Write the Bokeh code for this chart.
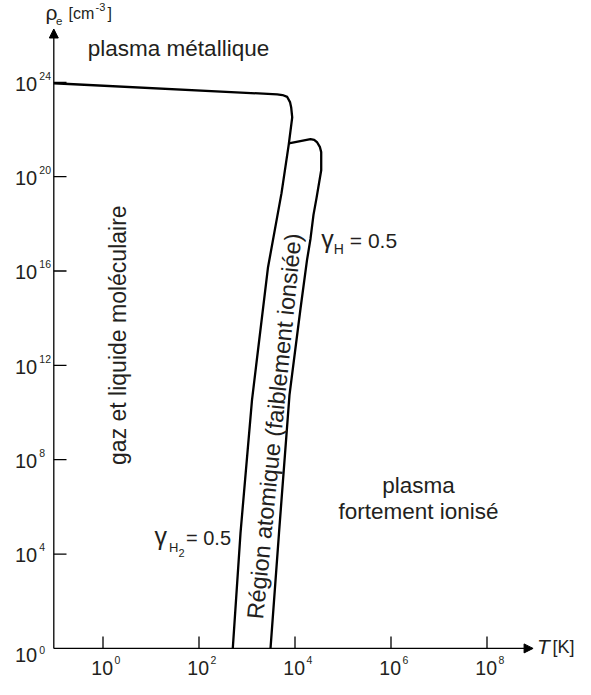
import math
from bokeh.plotting import figure
from bokeh.models import Range1d, Arrow, NormalHead
from bokeh.embed import file_html
from bokeh.resources import INLINE
from bokeh.core.properties import value

# ---------------- data (log10 units) ----------------
# gamma_H2 = 0.5 boundary (molecular -> atomic)
gamma_h2_log_T = [-1.025, 3.629, 3.74, 3.838, 3.896, 3.921, 3.942, 3.871, 3.719, 3.438, 3.104, 2.865, 2.704]
gamma_h2_log_rho = [23.96, 23.49, 23.46, 23.38, 23.16, 22.93, 22.51, 21.38, 19.30, 16.16, 10.53, 4.90, 0.0]

# gamma_H = 0.5 boundary (atomic -> ionised)
gamma_h_log_T = [3.871, 4.323, 4.40, 4.463, 4.52, 4.546, 4.546, 4.448, 4.385, 4.323, 4.25, 4.115, 3.885, 3.667, 3.49]
gamma_h_log_rho = [21.41, 21.59, 21.56, 21.45, 21.25, 21.04, 20.27, 19.09, 18.38, 17.37, 16.46, 14.41, 10.74, 4.90, 0.0]

x_tick_exponents = [0, 2, 4, 6, 8]
y_tick_exponents = [4, 8, 12, 16, 20, 24]
y_label_exponents = [4, 8, 12, 16, 20, 24]
axis_log_T = (-1.025, 8.96)     # extent of the temperature axis (decades)
axis_log_rho = (0.0, 26.26)     # extent of the density axis (decades)

# ---------------- figure ----------------
W, H = 575, 679
p = figure(width=W, height=H, output_backend="svg", toolbar_location=None,
           x_range=Range1d(-2.13542, 9.84375), y_range=Range1d(-1.3176, 27.468),
           x_axis_location=None, y_axis_location=None, min_border=0,
           outline_line_color=None)
p.xgrid.visible = False
p.ygrid.visible = False
p.background_fill_color = "white"
p.border_fill_color = "white"

FONT = value("Liberation Sans")
TXT = "#231f20"
K = 0.37  # baseline correction (fraction of font size)


def txt(x, y, t, fs, dx=0.0, dy=0.0, align="left", angle=0.0, style="normal"):
    c = K * fs
    p.text(x=x, y=y, text=t, x_offset=dx - c * math.sin(angle), y_offset=dy - c * math.cos(angle),
           angle=angle, text_align=align, text_baseline="alphabetic", text_font=FONT,
           text_font_size=f"{fs}px", text_font_style=style, text_color=TXT)


# axes with arrow heads
ax, ay = axis_log_T[0], axis_log_rho[0]
p.add_layout(Arrow(end=NormalHead(size=9, fill_color="black", line_color="black", line_width=1),
                   x_start=ax, y_start=ay, x_end=axis_log_T[1], y_end=ay,
                   line_width=1.3, line_color="black"))
p.add_layout(Arrow(end=NormalHead(size=9, fill_color="black", line_color="black", line_width=1),
                   x_start=ax, y_start=ay, x_end=ax, y_end=axis_log_rho[1],
                   line_width=1.3, line_color="black"))

# tick marks (inward)
p.ray(x=[ax] * len(y_tick_exponents), y=y_tick_exponents, length=12.7, angle=0,
      length_units="screen", line_color="black", line_width=1.3)
p.ray(x=x_tick_exponents, y=[ay] * len(x_tick_exponents), length=12, angle=math.pi / 2,
      length_units="screen", line_color="black", line_width=1.3)

# tick labels: x axis
n = len(x_tick_exponents)
txt(x_tick_exponents, [ay] * n, ["10"] * n, 19.5, dx=10, dy=26.6, align="right")
txt(x_tick_exponents, [ay] * n, [str(e) for e in x_tick_exponents], 10.5, dx=11.5, dy=15.8)

# tick labels: y axis
m = len(y_label_exponents)
txt([ax] * m, y_label_exponents, ["10"] * m, 20, dx=-16.6, dy=8.6, align="right")
txt([ax] * m, y_label_exponents, [str(e) for e in y_label_exponents], 10.5, dx=-14.5, dy=-2.8)
txt([ax], [ay], ["10"], 20, dx=-16.6, dy=14.2, align="right")
txt([ax], [ay], ["0"], 10.5, dx=-14.5, dy=5.3)

# axis titles
tx, ty = axis_log_T[0], axis_log_rho[1]
txt([tx], [ty], ["ρ"], 21, dx=-8.3, dy=-8.9)
txt([tx], [ty], ["e"], 11.5, dx=2.2, dy=-3.3)
txt([tx], [ty], ["[cm"], 16, dx=14.7, dy=-9.9)
txt([tx], [ty], ["-3"], 11, dx=41.7, dy=-18.1)
txt([tx], [ty], ["]"], 16, dx=53.7, dy=-9.9)

txt([axis_log_T[1]], [ay], ["T"], 21, dx=3.9, dy=5.9, style="italic")
txt([axis_log_T[1]], [ay], ["[K]"], 18, dx=19.4, dy=5.3)

# boundary curves
p.line(gamma_h2_log_T, gamma_h2_log_rho, line_color="black", line_width=2.3, line_join="round")
p.line(gamma_h_log_T, gamma_h_log_rho, line_color="black", line_width=2.3, line_join="round")

# region labels
txt([1.573], [25.08], ["plasma métallique"], 22.5, align="center")
txt([0.49], [13.28], ["gaz et liquide moléculaire"], 23, align="center", angle=math.pi / 2)
txt([3.349], [1.21], ["Région atomique (faiblement ionsiée)"], 23.4, angle=math.radians(84.3))
txt([6.573, 6.573], [6.565, 5.451], ["plasma", "fortement ionisé"], 22.5, align="center")

# gamma_H = 0.5
gx, gy = 4.546, 16.97
txt([gx], [gy], ["γ"], 25)
txt([gx], [gy], ["H"], 14, dx=12.6, dy=5.9)
txt([gx], [gy], ["= 0.5"], 21, dx=28.6)

# gamma_H2 = 0.5
hx, hy = 1.073, 4.366
txt([hx], [hy], ["γ"], 25)
txt([hx], [hy], ["H"], 13, dx=14.5, dy=6.5)
txt([hx], [hy], ["2"], 11, dx=24, dy=12.1)
txt([hx], [hy], ["= 0.5"], 20, dx=31.5)

open("out.html", "w").write(file_html(p, INLINE))
